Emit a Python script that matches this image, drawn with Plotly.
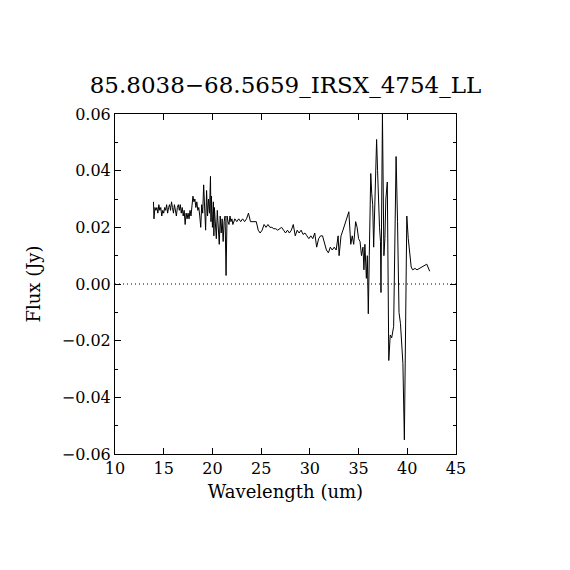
import plotly.graph_objects as go

wavelength = [13.95, 14.0, 14.1, 14.2, 14.3, 14.4, 14.5, 14.6, 14.7, 14.8, 14.9, 15.0, 15.1, 15.2, 15.3, 15.4,
              15.5, 15.6, 15.7, 15.8, 15.9, 16.0, 16.1, 16.2, 16.3, 16.4, 16.5, 16.6, 16.7, 16.8, 16.9, 17.0,
              17.1, 17.2, 17.3, 17.4, 17.5, 17.6, 17.7, 17.8, 17.9, 18.0, 18.1, 18.2, 18.3, 18.4, 18.5, 18.6,
              18.7, 18.8, 18.9, 19.0, 19.1, 19.2, 19.3, 19.4, 19.5, 19.6, 19.7, 19.8, 19.85, 19.9, 20.0, 20.1,
              20.15, 20.2, 20.3, 20.4, 20.5, 20.6, 20.7, 20.8, 20.9, 21.0, 21.1, 21.2, 21.3, 21.4, 21.5, 21.6,
              21.7, 21.8, 21.9, 22.0, 22.1, 22.3, 22.5, 22.7, 22.9, 23.1, 23.3, 23.5, 23.7, 23.9, 24.1, 24.3,
              24.5, 24.7, 24.9, 25.1, 25.3, 25.5, 25.7, 25.9, 26.1, 26.3, 26.5, 26.7, 26.9, 27.1, 27.3, 27.5,
              27.7, 27.9, 28.1, 28.3, 28.5, 28.7, 28.9, 29.1, 29.3, 29.5, 29.7, 29.9, 30.1, 30.3, 30.5, 30.7,
              30.9, 31.1, 31.3, 31.5, 31.7, 31.9, 32.1, 32.3, 32.5, 32.7, 32.9, 33.0, 33.2, 33.4, 33.6, 33.8,
              34.0, 34.2, 34.35, 34.5, 34.7, 34.85, 35.0, 35.15, 35.3, 35.45, 35.55, 35.65, 35.8, 35.9, 36.0,
              36.1, 36.25, 36.35, 36.45, 36.55, 36.7, 36.85, 36.95, 37.05, 37.15, 37.25, 37.3, 37.45, 37.6,
              37.7, 37.8, 37.95, 38.1, 38.25, 38.4, 38.6, 38.85, 39.0, 39.15, 39.3, 39.45, 39.55, 39.7, 39.95,
              40.1, 40.25, 40.4, 40.55, 40.8, 41.0, 41.25, 41.5, 41.75, 42.0, 42.3]

flux = [0.029, 0.023, 0.027, 0.026, 0.027, 0.025, 0.028, 0.026, 0.027, 0.024, 0.026, 0.025, 0.027, 0.026,
        0.028, 0.025, 0.027, 0.028, 0.026, 0.029, 0.027, 0.025, 0.028, 0.026, 0.024, 0.027, 0.028, 0.026,
        0.028, 0.025, 0.027, 0.024, 0.026, 0.021, 0.025, 0.023, 0.025, 0.023, 0.026, 0.024, 0.027, 0.031,
        0.029, 0.030, 0.027, 0.029, 0.026, 0.027, 0.024, 0.020, 0.028, 0.025, 0.035, 0.024, 0.019, 0.033,
        0.024, 0.030, 0.025, 0.038, 0.022, 0.031, 0.020, 0.029, 0.017, 0.027, 0.023, 0.016, 0.026, 0.020,
        0.014, 0.024, 0.018, 0.023, 0.015, 0.022, 0.024, 0.003, 0.024, 0.022, 0.021, 0.024, 0.022, 0.023,
        0.021, 0.023, 0.022, 0.023, 0.022, 0.023, 0.022, 0.023, 0.025, 0.022, 0.022, 0.022, 0.022, 0.019,
        0.018, 0.019, 0.021, 0.020, 0.021, 0.020, 0.020, 0.0195, 0.0195, 0.019, 0.0195, 0.020, 0.019,
        0.018, 0.019, 0.018, 0.019, 0.021, 0.017, 0.019, 0.018, 0.019, 0.0175, 0.018, 0.017, 0.016, 0.017,
        0.016, 0.018, 0.013, 0.016, 0.017, 0.017, 0.014, 0.012, 0.011, 0.013, 0.012, 0.013, 0.012, 0.017,
        0.010, 0.017, 0.019, 0.021, 0.023, 0.0255, 0.014, 0.017, 0.014, 0.022, 0.020, 0.016, 0.015, 0.010,
        0.013, 0.005, 0.014, 0.002, 0.010, -0.0105, 0.010, 0.039, 0.032, 0.028, 0.013, 0.030, 0.051, 0.040,
        0.028, 0.020, 0.015, -0.003, 0.060, 0.010, 0.016, 0.030, 0.036, -0.027, -0.018, -0.019, -0.015,
        0.045, 0.022, -0.010, -0.014, -0.021, -0.028, -0.055, 0.024, 0.016, 0.012, 0.006, 0.005, 0.0055,
        0.005, 0.0055, 0.006, 0.0065, 0.007, 0.0045]

title_text = "85.8038\u221268.5659_IRSX_4754_LL"
x_label = "Wavelength (um)"
y_label = "Flux (Jy)"
x_ticks = [10, 15, 20, 25, 30, 35, 40, 45]
y_ticks = [-0.06, -0.04, -0.02, 0.0, 0.02, 0.04, 0.06]

FONT = "DejaVu Serif"

fig = go.Figure()
fig.add_trace(go.Scatter(x=[10, 45], y=[0, 0], mode="lines",
                         line=dict(color="black", width=1, dash="1px,3px"),
                         hoverinfo="skip", showlegend=False))
fig.add_trace(go.Scatter(x=wavelength, y=flux, mode="lines",
                         line=dict(color="black", width=1), showlegend=False))

axis_common = dict(showline=True, linecolor="black", linewidth=1, mirror="allticks",
                   ticks="inside", tickcolor="black", showgrid=False, zeroline=False,
                   tickfont=dict(family=FONT, size=16, color="black"))

fig.update_layout(
    width=570, height=570,
    margin=dict(l=107, r=122, t=106, b=124),
    paper_bgcolor="white", plot_bgcolor="white",
    title=dict(text=title_text, x=(107 + 341 / 2) / 570, xanchor="center",
               y=1 - 77 / 570, yanchor="middle",
               font=dict(family=FONT, size=23, color="black")),
    xaxis=dict(range=[10, 45], tickvals=x_ticks, ticklen=6,
               tickformat="d",
               title=dict(text=x_label, font=dict(family=FONT, size=18, color="black"), standoff=8),
               **axis_common),
    yaxis=dict(range=[-0.06, 0.06], tickvals=y_ticks, ticklen=6, tickformat=".2f",
               minor=dict(dtick=0.01, ticks="inside", ticklen=3, tickcolor="black"),
               title=dict(text=y_label, font=dict(family=FONT, size=18, color="black"), standoff=16),
               **axis_common),
)

fig.write_html("out.html")
